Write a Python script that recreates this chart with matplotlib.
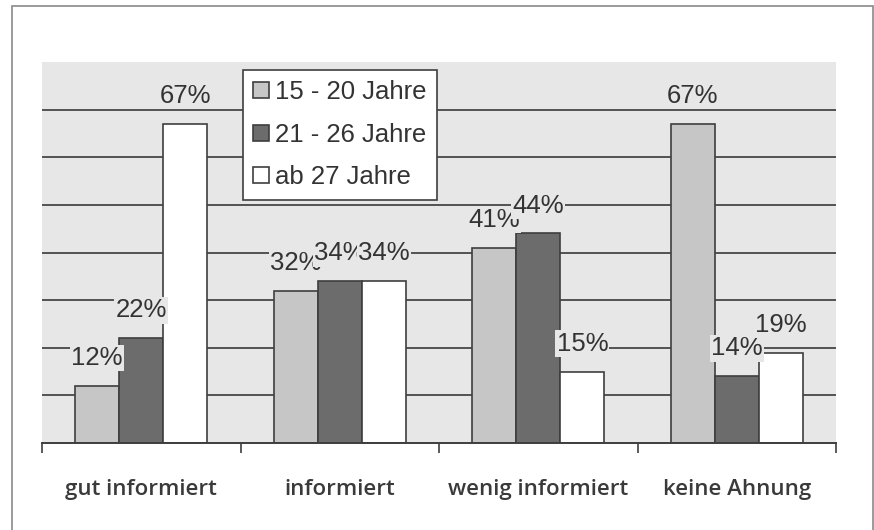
import numpy as np
import matplotlib.pyplot as plt
from matplotlib.patches import Rectangle

categories = ['gut informiert', 'informiert', 'wenig informiert', 'keine Ahnung']
series_names = ['15 - 20 Jahre', '21 - 26 Jahre', 'ab 27 Jahre']
v_15_20 = [12, 32, 41, 67]
v_21_26 = [22, 34, 44, 14]
v_ab27 = [67, 34, 15, 19]

colors = ['#c6c6c6', '#6c6c6c', '#ffffff']
bg = '#e7e7e7'
edge = '#3e3e3e'

fig = plt.figure(figsize=(8.74, 5.30), dpi=100)
ax = fig.add_axes([42/874, 1-443/530, 794/874, 381/530])
ax.set_facecolor(bg)

fig.patches.append(Rectangle((12/874, -0.05), 861/874, 1-6/530+0.05, transform=fig.transFigure,
                             fill=False, ec='#8a8a8a', lw=1.2))

x = np.arange(len(categories))
w = 0.222
data = [v_15_20, v_21_26, v_ab27]
for i, vals in enumerate(data):
    pos = x + (i-1)*w
    ax.bar(pos, vals, w, color=colors[i], edgecolor=edge, lw=1.2, label=series_names[i], zorder=3)
    for px, v in zip(pos, vals):
        ax.annotate('%d%%' % v, (px, v), xytext=(0, 15), textcoords='offset points',
                    ha='center', va='baseline', fontsize=18.5, color='#333333',
                    family='Liberation Sans', zorder=5,
                    bbox=dict(boxstyle='square,pad=0.05', fc=bg, ec='none'))

ax.set_ylim(0, 80)
ax.set_xlim(-0.5, 3.5)
ax.set_yticks(np.arange(10, 80, 10))
ax.yaxis.grid(True, color='#3a3a3a', lw=1.2, zorder=1)
ax.tick_params(axis='y', left=False, labelleft=False)
ax.set_xticks(x)
ax.set_xticklabels(categories, fontsize=16, family='Open Sans', fontweight='semibold', color='#3a3a3a')
ax.tick_params(axis='x', length=0, pad=26)
ax.set_xticks(np.arange(-0.5, 4, 1), minor=True)
ax.tick_params(axis='x', which='minor', length=7, width=1.2, color=edge, direction='out')
for s in ['top', 'left', 'right']:
    ax.spines[s].set_visible(False)
ax.spines['bottom'].set_color(edge)
ax.spines['bottom'].set_linewidth(1.4)
ax.spines['bottom'].set_zorder(4)

leg = ax.legend(loc='upper left', bbox_to_anchor=(0.253, 0.979), borderaxespad=0,
                fancybox=False, framealpha=1, edgecolor=edge, prop={'family': 'Liberation Sans', 'size': 18.5},
                handlelength=0.6, handleheight=0.6, handletextpad=0.25, labelspacing=0.72,
                borderpad=0.4)
leg.get_frame().set_linewidth(1.2)
for t in leg.get_texts():
    t.set_color('#333333')
leg.set_zorder(6)

fig.savefig('out.png', dpi=100)
